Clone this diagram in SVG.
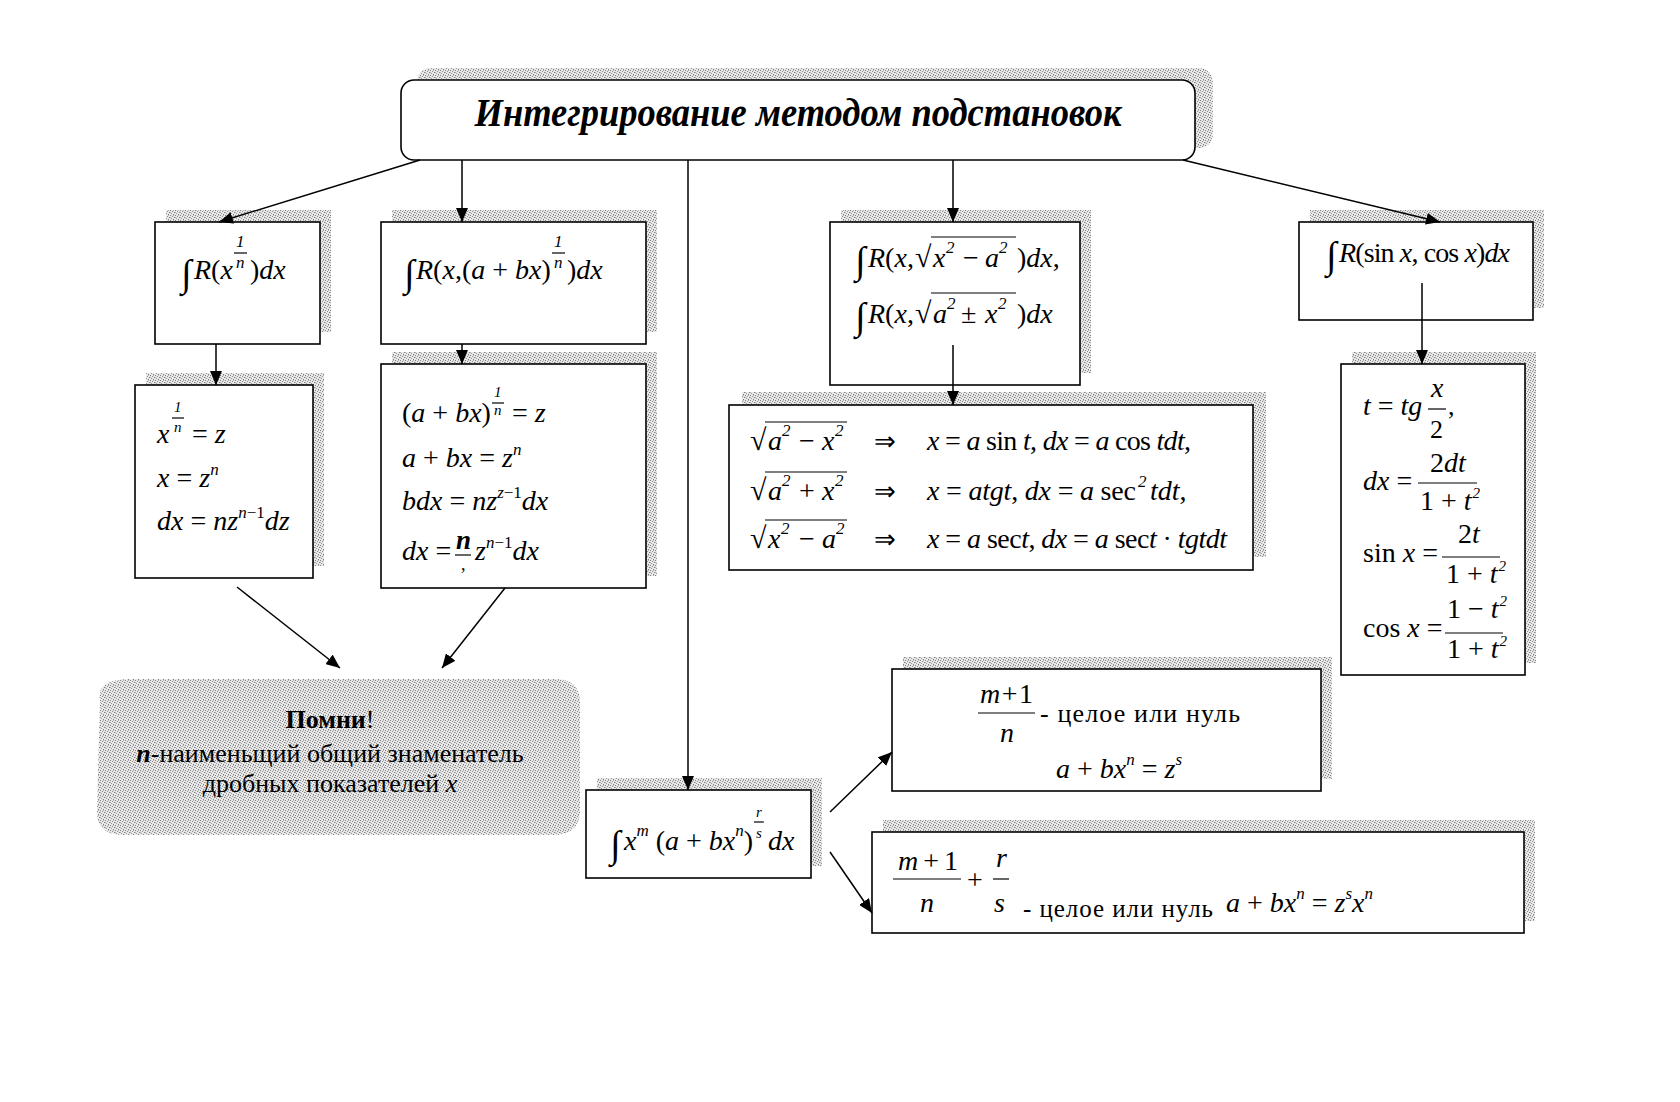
<svg xmlns="http://www.w3.org/2000/svg" width="1680" height="1102" viewBox="0 0 1680 1102">
<defs>
<pattern id="dots" width="5" height="5" patternUnits="userSpaceOnUse">
<rect width="5" height="5" fill="#e8e8e8"/>
<rect x="0" y="0" width="1" height="1" fill="#808080"/>
<rect x="2" y="1" width="1" height="1" fill="#909090"/>
<rect x="4" y="2" width="1" height="1" fill="#808080"/>
<rect x="1" y="3" width="1" height="1" fill="#9a9a9a"/>
<rect x="3" y="4" width="1" height="1" fill="#808080"/>
<rect x="3" y="0" width="1" height="1" fill="#b4b4b4"/>
<rect x="0" y="2" width="1" height="1" fill="#b4b4b4"/>
</pattern>
<marker id="ah" markerWidth="14" markerHeight="12" refX="14" refY="6" orient="auto" markerUnits="userSpaceOnUse"><polygon points="0,0 14,6 0,12" style="fill:#000;stroke:none"/></marker>
</defs>
<style>
.bx{fill:#fff;stroke:#000;stroke-width:1.6}
.sh{fill:url(#dots)}
text{font-family:"Liberation Serif","Times New Roman",serif;fill:#000}
.m{font-size:28px;font-style:italic}
.u{font-style:normal}
.s{font-size:17px;font-style:italic}
.t{font-size:15px;font-style:italic}
.int{font-size:38px;font-style:normal}
.rad{font-size:30px;font-style:normal}
.fb{stroke:#000;stroke-width:1.2}
.ov{stroke:#000;stroke-width:1.2}
.cn{stroke:#000;stroke-width:1.5;fill:none}
</style>
<rect width="1680" height="1102" fill="#fff"/>

<g id="title">
<rect class="sh" x="417" y="68" width="796" height="80" rx="14"/>
<rect class="bx" x="401" y="80" width="794" height="80" rx="13"/>
<text x="798" y="126" text-anchor="middle" font-size="39" font-weight="bold" font-style="italic" textLength="647" lengthAdjust="spacingAndGlyphs">Интегрирование методом подстановок</text>
</g>

<g id="box-root-n">
<rect class="sh" x="166" y="210" width="165" height="122"/>
<rect class="bx" x="155" y="222" width="165" height="122"/>
<text class="int" x="181" y="286">∫</text>
<text class="m" x="194" y="279">R<tspan class="u">(</tspan>x</text>
<text class="s u" x="236" y="247">1</text>
<line class="fb" x1="234" y1="253" x2="247" y2="253"/>
<text class="s" x="236" y="268">n</text>
<text class="m" x="250" y="279"><tspan class="u">)</tspan>dx</text>
</g>

<g id="box-root-linear">
<rect class="sh" x="392" y="210" width="265" height="122"/>
<rect class="bx" x="381" y="222" width="265" height="122"/>
<text class="int" x="404" y="286">∫</text>
<text class="m" x="416" y="279">R<tspan class="u">(</tspan>x<tspan class="u">,(</tspan>a<tspan class="u"> + </tspan>bx<tspan class="u">)</tspan></text>
<text class="s u" x="554" y="247">1</text>
<line class="fb" x1="552" y1="253" x2="565" y2="253"/>
<text class="s" x="554" y="268">n</text>
<text class="m" x="567" y="279"><tspan class="u">)</tspan>dx</text>
</g>

<g id="box-subst-n">
<rect class="sh" x="146" y="373" width="178" height="193"/>
<rect class="bx" x="135" y="385" width="178" height="193"/>
<text class="m" x="157" y="443">x</text>
<text class="t u" x="174" y="412">1</text>
<line class="fb" x1="172" y1="418" x2="184" y2="418"/>
<text class="t" x="174" y="432">n</text>
<text class="m" x="192" y="443"><tspan class="u">=</tspan> z</text>
<text class="m" x="157" y="487">x <tspan class="u">=</tspan> z<tspan class="s" dy="-12">n</tspan></text>
<text class="m" x="157" y="530">dx <tspan class="u">=</tspan> nz<tspan class="s" dy="-12">n<tspan class="u">−1</tspan></tspan><tspan dy="12">dz</tspan></text>
</g>

<g id="box-subst-linear">
<rect class="sh" x="392" y="352" width="265" height="224"/>
<rect class="bx" x="381" y="364" width="265" height="224"/>
<text class="m" x="402" y="422"><tspan class="u">(</tspan>a<tspan class="u"> + </tspan>bx<tspan class="u">)</tspan></text>
<text class="t u" x="494" y="397">1</text>
<line class="fb" x1="492" y1="403" x2="504" y2="403"/>
<text class="t" x="494" y="415">n</text>
<text class="m" x="512" y="422"><tspan class="u">=</tspan> z</text>
<text class="m" x="402" y="467">a<tspan class="u"> + </tspan>bx <tspan class="u">=</tspan> z<tspan class="s" dy="-12">n</tspan></text>
<text class="m" x="402" y="510">bdx <tspan class="u">=</tspan> nz<tspan class="s" dy="-12">z<tspan class="u">−1</tspan></tspan><tspan dy="12">dx</tspan></text>
<text class="m" x="402" y="560">dx <tspan class="u">=</tspan></text>
<text x="456" y="549" font-size="27" font-style="italic" font-weight="bold">n</text>
<line class="fb" x1="455" y1="555" x2="471" y2="555"/>
<text x="461" y="570" font-size="18">,</text>
<text class="m" x="475" y="560">z<tspan class="s" dy="-12">n<tspan class="u">−1</tspan></tspan><tspan dy="12">dx</tspan></text>
</g>

<g id="box-root-quadratic">
<rect class="sh" x="841" y="210" width="250" height="163"/>
<rect class="bx" x="830" y="222" width="250" height="163"/>
<text class="int" x="855" y="273">∫</text>
<text class="m" x="868" y="267">R<tspan class="u">(</tspan>x<tspan class="u">,</tspan></text>
<text class="rad" x="915" y="267">√</text>
<line class="ov" x1="931" y1="237" x2="1016" y2="237"/>
<text class="m" x="933" y="267">x</text>
<text class="s u" x="946" y="253">2</text>
<text class="m u" x="963" y="267">−</text>
<text class="m" x="985" y="267">a</text>
<text class="s u" x="999" y="253">2</text>
<text class="m" x="1017" y="267"><tspan class="u">)</tspan>dx<tspan class="u">,</tspan></text>
<text class="int" x="855" y="329">∫</text>
<text class="m" x="868" y="323">R<tspan class="u">(</tspan>x<tspan class="u">,</tspan></text>
<text class="rad" x="915" y="323">√</text>
<line class="ov" x1="931" y1="293" x2="1016" y2="293"/>
<text class="m" x="933" y="323">a</text>
<text class="s u" x="947" y="309">2</text>
<text class="m u" x="961" y="323">±</text>
<text class="m" x="985" y="323">x</text>
<text class="s u" x="998" y="309">2</text>
<text class="m" x="1017" y="323"><tspan class="u">)</tspan>dx</text>
</g>

<g id="box-trig-subst">
<rect class="sh" x="742" y="392" width="524" height="165"/>
<rect class="bx" x="729" y="405" width="524" height="165"/>
<text class="rad" x="750" y="450">√</text>
<line class="ov" x1="765" y1="422" x2="847" y2="422"/>
<text class="m" x="768" y="450">a</text><text class="s u" x="782" y="436">2</text>
<text class="m u" x="799" y="450">−</text>
<text class="m" x="822" y="450">x</text><text class="s u" x="835" y="436">2</text>
<text x="874" y="450" font-size="26">⇒</text>
<text class="m" x="927" y="450" textLength="264">x <tspan class="u">=</tspan> a <tspan class="u">sin</tspan> t<tspan class="u">,</tspan> dx <tspan class="u">=</tspan> a <tspan class="u">cos</tspan> tdt<tspan class="u">,</tspan></text>

<text class="rad" x="750" y="500">√</text>
<line class="ov" x1="765" y1="472" x2="847" y2="472"/>
<text class="m" x="768" y="500">a</text><text class="s u" x="782" y="486">2</text>
<text class="m u" x="799" y="500">+</text>
<text class="m" x="822" y="500">x</text><text class="s u" x="835" y="486">2</text>
<text x="874" y="500" font-size="26">⇒</text>
<text class="m" x="927" y="500" textLength="209">x <tspan class="u">=</tspan> atgt<tspan class="u">,</tspan> dx <tspan class="u">=</tspan> a <tspan class="u">sec</tspan></text>
<text class="s u" x="1138" y="487">2</text>
<text class="m" x="1150" y="500">tdt<tspan class="u">,</tspan></text>

<text class="rad" x="750" y="548">√</text>
<line class="ov" x1="765" y1="520" x2="847" y2="520"/>
<text class="m" x="768" y="548">x</text><text class="s u" x="781" y="534">2</text>
<text class="m u" x="799" y="548">−</text>
<text class="m" x="822" y="548">a</text><text class="s u" x="836" y="534">2</text>
<text x="874" y="548" font-size="26">⇒</text>
<text class="m" x="927" y="548" textLength="300">x <tspan class="u">=</tspan> a <tspan class="u">sec</tspan>t<tspan class="u">,</tspan> dx <tspan class="u">=</tspan> a <tspan class="u">sec</tspan>t <tspan class="u">·</tspan> tgtdt</text>
</g>

<g id="box-trig">
<rect class="sh" x="1310" y="210" width="234" height="98"/>
<rect class="bx" x="1299" y="222" width="234" height="98"/>
<text class="int" x="1326" y="268">∫</text>
<text class="m" x="1339" y="262" textLength="171">R<tspan class="u">(sin</tspan> x<tspan class="u">, cos</tspan> x<tspan class="u">)</tspan>dx</text>
</g>

<g id="box-universal">
<rect class="sh" x="1352" y="352" width="184" height="311"/>
<rect class="bx" x="1341" y="364" width="184" height="311"/>
<text class="m" x="1363" y="415" font-size="27">t <tspan class="u">=</tspan> tg</text>
<text class="m" x="1431" y="397" font-size="26">x</text>
<line class="fb" x1="1428" y1="409" x2="1446" y2="409"/>
<text class="u" x="1430" y="438" font-size="26">2</text>
<text class="u" x="1448" y="415" font-size="26">,</text>

<text class="m" x="1363" y="490">dx <tspan class="u">=</tspan></text>
<text class="m" x="1430" y="472"><tspan class="u">2</tspan>dt</text>
<line class="fb" x1="1418" y1="483" x2="1477" y2="483"/>
<text class="m" x="1420" y="510"><tspan class="u">1 + </tspan>t<tspan class="t u" dx="1" dy="-12">2</tspan></text>

<text class="m u" x="1363" y="562">sin <tspan font-style="italic">x</tspan> =</text>
<text class="m" x="1458" y="543"><tspan class="u">2</tspan>t</text>
<line class="fb" x1="1442" y1="557" x2="1500" y2="557"/>
<text class="m" x="1446" y="583"><tspan class="u">1 + </tspan>t<tspan class="t u" dx="1" dy="-12">2</tspan></text>

<text class="m u" x="1363" y="637">cos <tspan font-style="italic">x</tspan> =</text>
<text class="m" x="1447" y="618"><tspan class="u">1 − </tspan>t<tspan class="t u" dx="1" dy="-12">2</tspan></text>
<line class="fb" x1="1445" y1="633" x2="1503" y2="633"/>
<text class="m" x="1447" y="658"><tspan class="u">1 + </tspan>t<tspan class="t u" dx="1" dy="-12">2</tspan></text>
</g>

<g id="note">
<path class="sh" d="M100,700 Q96,680 128,679 L556,679 Q581,680 580,704 L580,812 Q579,835 553,835 L122,835 Q96,834 97,810 Z"/>
<text x="330" y="728" text-anchor="middle" font-size="26"><tspan font-weight="bold">Помни</tspan>!</text>
<text x="330" y="762" text-anchor="middle" font-size="26"><tspan font-weight="bold" font-style="italic">n</tspan>-наименьщий общий знаменатель</text>
<text x="330" y="792" text-anchor="middle" font-size="26">дробных показателей <tspan font-style="italic">x</tspan></text>
</g>

<g id="box-binomial">
<rect class="sh" x="597" y="778" width="225" height="88"/>
<rect class="bx" x="586" y="790" width="225" height="88"/>
<text class="int" x="610" y="857">∫</text>
<text class="m" x="624" y="850">x<tspan class="s" dy="-14">m</tspan><tspan class="u" dy="14"> (</tspan>a<tspan class="u"> + </tspan>bx<tspan class="s" dy="-14">n</tspan><tspan class="u" dy="14">)</tspan></text>
<text class="t" x="756" y="817">r</text>
<line class="fb" x1="754" y1="822" x2="764" y2="822"/>
<text class="t" x="756" y="838">s</text>
<text class="m" x="768" y="850">dx</text>
</g>

<g id="box-case1">
<rect class="sh" x="903" y="657" width="429" height="122"/>
<rect class="bx" x="892" y="669" width="429" height="122"/>
<text class="m" x="980" y="703" textLength="53">m<tspan class="u"> + 1</tspan></text>
<line class="fb" x1="978" y1="713" x2="1035" y2="713"/>
<text class="m" x="1000" y="742">n</text>
<text x="1040" y="722" font-size="26" textLength="200">- целое или  нуль</text>
<text class="m" x="1056" y="778">a<tspan class="u"> + </tspan>bx<tspan class="s" dy="-13">n</tspan><tspan class="u" dy="13"> = </tspan>z<tspan class="s" dy="-13">s</tspan></text>
</g>

<g id="box-case2">
<rect class="sh" x="883" y="820" width="652" height="101"/>
<rect class="bx" x="872" y="832" width="652" height="101"/>
<text class="m" x="898" y="870" textLength="60">m<tspan class="u"> + 1</tspan></text>
<line class="fb" x1="893" y1="879" x2="961" y2="879"/>
<text class="m" x="920" y="912">n</text>
<text class="m u" x="967" y="889">+</text>
<text class="m" x="996" y="867">r</text>
<line class="fb" x1="993" y1="879" x2="1009" y2="879"/>
<text class="m" x="994" y="912">s</text>
<text x="1023" y="917" font-size="25" textLength="190">- целое или нуль</text>
<text class="m" x="1226" y="912" font-size="26">a<tspan class="u"> + </tspan>bx<tspan class="s" dy="-13">n</tspan><tspan class="u" dy="13"> = </tspan>z<tspan class="s" dy="-13">s</tspan><tspan dy="13">x</tspan><tspan class="s" dy="-13">n</tspan></text>
</g>

<g id="connectors">
<path class="cn" d="M420,160 L219,222" marker-end="url(#ah)"/>
<path class="cn" d="M462,160 L462,222" marker-end="url(#ah)"/>
<path class="cn" d="M688,160 L688,790" marker-end="url(#ah)"/>
<path class="cn" d="M953,160 L953,222" marker-end="url(#ah)"/>
<path class="cn" d="M1183,160 L1440,222" marker-end="url(#ah)"/>
<path class="cn" d="M216,344 L216,385" marker-end="url(#ah)"/>
<path class="cn" d="M462,344 L462,364" marker-end="url(#ah)"/>
<path class="cn" d="M953,345 L953,405" marker-end="url(#ah)"/>
<path class="cn" d="M1422,283 L1422,364" marker-end="url(#ah)"/>
<path class="cn" d="M237,587 L340,668" marker-end="url(#ah)"/>
<path class="cn" d="M505,588 L442,668" marker-end="url(#ah)"/>
<path class="cn" d="M830,812 L892,752" marker-end="url(#ah)"/>
<path class="cn" d="M830,852 L872,913" marker-end="url(#ah)"/>
</g>
</svg>
